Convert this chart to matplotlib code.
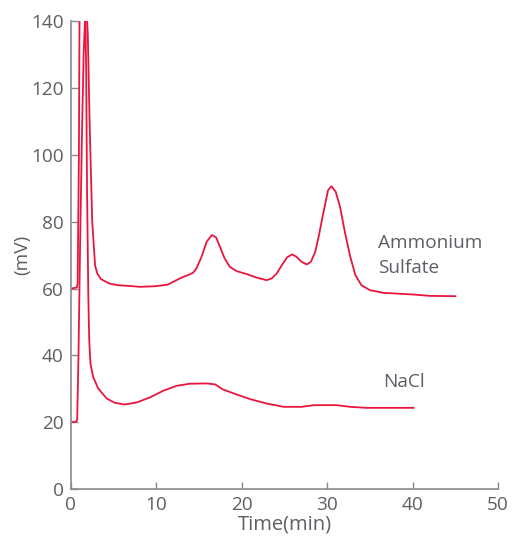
import matplotlib
matplotlib.use("Agg")
import matplotlib.pyplot as plt

# Ammonium sulfate trace
amm_t = [0.1, 0.7, 0.8, 0.95, 1.02, 1.1, 1.8, 1.99, 2.2, 2.5, 2.84, 3.1, 3.53, 4.5, 5.5,
         7.2, 8.1, 10.0, 11.4, 12.2, 13.0, 13.7, 14.3, 14.7, 15.3, 15.9, 16.5, 17.0, 17.45,
         18.0, 18.6, 19.4, 20.6, 21.7, 22.9, 23.5, 24.1, 24.7, 25.3, 25.9, 26.4, 27.0,
         27.6, 28.1, 28.6, 29.0, 29.5, 30.1, 30.5, 31.0, 31.5, 32.1, 32.7, 33.3, 34.0,
         35.0, 36.6, 40.1, 42.0, 45.0]
amm_v = [60.0, 60.3, 61.5, 100.0, 141.0, 146.0, 146.0, 136.0, 110.0, 80.4, 66.9, 64.5, 62.8,
         61.5, 61.0, 60.7, 60.5, 60.7, 61.2, 62.3, 63.3, 64.0, 64.7, 66.0, 69.5, 74.0, 76.0,
         75.3, 72.5, 69.0, 66.5, 65.2, 64.3, 63.3, 62.5, 63.0, 64.5, 67.0, 69.3, 70.2, 69.5,
         68.0, 67.2, 68.0, 71.0, 75.5, 82.0, 89.4, 90.6, 88.9, 84.5, 76.5, 69.5, 64.0, 61.0,
         59.5, 58.7, 58.2, 57.8, 57.7]

# NaCl trace
nacl_t = [0.1, 0.65, 0.75, 0.9, 1.1, 1.3, 1.5, 1.7, 1.8, 1.9, 2.05, 2.15, 2.3, 2.61, 3.2,
          4.2, 5.15, 6.3, 7.7, 9.25, 10.8, 12.4, 13.9, 15.9, 16.9, 17.8, 19.4, 21.0, 22.9,
          24.9, 27.0, 28.4, 31.1, 32.7, 34.6, 40.1]
nacl_v = [20.0, 20.2, 21.0, 40.0, 75.0, 105.0, 130.0, 142.6, 125.0, 90.0, 58.0, 45.0, 37.5,
          33.6, 30.1, 27.1, 25.8, 25.3, 25.9, 27.4, 29.4, 30.9, 31.5, 31.6, 31.3, 29.8, 28.3,
          26.9, 25.6, 24.6, 24.6, 25.1, 25.1, 24.6, 24.3, 24.3]

red = "#e8163f"
gray = "#5c5f64"
axis_gray = "#8a8a8a"

plt.rcParams["font.family"] = ["Open Sans", "DejaVu Sans"]

fig = plt.figure(figsize=(5.13, 5.41), dpi=100)
ax = fig.add_axes([0.138, 0.096, 0.833, 0.865])

ax.plot(amm_t, amm_v, color=red, lw=1.3)
ax.plot(nacl_t, nacl_v, color=red, lw=1.3)

ax.text(35.9, 73.5, "Ammonium", color=gray, fontsize=13.7, va="center", ha="left")
ax.text(35.9, 66.0, "Sulfate", color=gray, fontsize=13.7, va="center", ha="left")
ax.text(36.6, 32.0, "NaCl", color=gray, fontsize=13.7, va="center", ha="left")

ax.set_xlim(0, 50)
ax.set_ylim(0, 140)
ax.set_xticks([0, 10, 20, 30, 40, 50])
ax.set_yticks([0, 20, 40, 60, 80, 100, 120, 140])

for s in ["top", "right"]:
    ax.spines[s].set_visible(False)
for s in ["left", "bottom"]:
    ax.spines[s].set_color(axis_gray)
    ax.spines[s].set_linewidth(1.2)

ax.tick_params(direction="in", length=5, width=1, color=axis_gray,
               labelcolor=gray, labelsize=13.7, pad=5)

ax.set_xlabel("Time(min)", color=gray, fontsize=14.5, labelpad=0)
ax.set_ylabel("(mV)", color=gray, fontsize=13.7, labelpad=0)

fig.savefig("out.png", dpi=100)
